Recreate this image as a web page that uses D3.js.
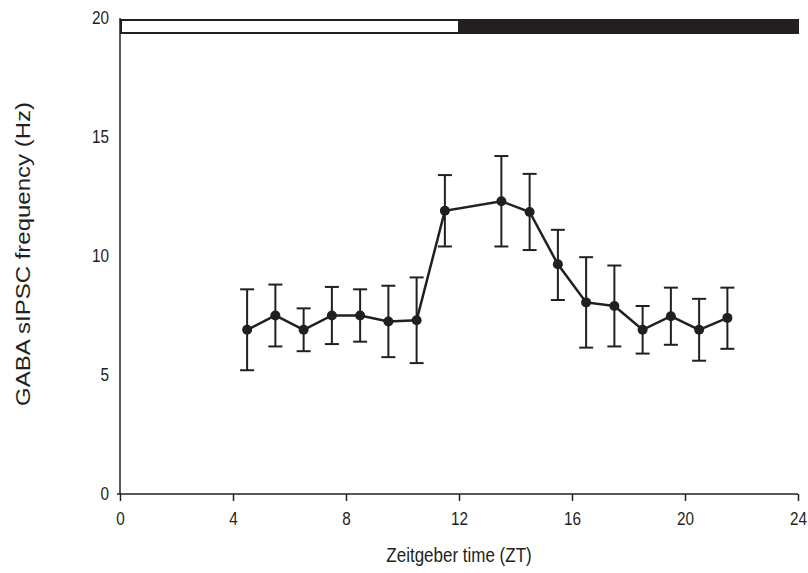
<!DOCTYPE html>
<html>
<head>
<meta charset="utf-8">
<script src="https://cdn.jsdelivr.net/npm/d3@7"></script>
<style>
  body { margin: 0; background: #fff; }
  text { font-family: "Liberation Sans", Arial, sans-serif; fill: #231f20; }
</style>
</head>
<body>
<svg class="chart"></svg>
<script>

// ZT of each recording bin
let zt = [4.5, 5.5, 6.5, 7.5, 8.5, 9.5, 10.5, 11.5, 13.5, 14.5, 15.5, 16.5, 17.5, 18.5, 19.5, 20.5, 21.5]
// mean frequency (Hz)
let freq = [6.9, 7.5, 6.9, 7.5, 7.5, 7.25, 7.3, 11.9, 12.3, 11.85, 9.65, 8.05, 7.9, 6.9, 7.47, 6.9, 7.4]
// error bar ends
let errHi = [8.6, 8.8, 7.8, 8.7, 8.6, 8.75, 9.1, 13.4, 14.2, 13.45, 11.1, 9.95, 9.6, 7.9, 8.67, 8.2, 8.67]
let errLo = [5.2, 6.2, 6.0, 6.3, 6.4, 5.75, 5.5, 10.4, 10.4, 10.25, 8.15, 6.15, 6.2, 5.9, 6.27, 5.6, 6.1]

let xTicks = [0, 4, 8, 12, 16, 20, 24]
let yTicks = [0, 5, 10, 15, 20]
// light / dark phases
let phases = [{ from: 0, to: 12, fill: "#fff" }, { from: 12, to: 24, fill: "#231f20" }]

let ink = "#231f20"

let svg = d3.select(".chart")
    .attr("width", 808)
    .attr("height", 573)

let x = d3.scaleLinear().domain([0, 24]).range([120, 798])
let y = d3.scaleLinear().domain([0, 20]).range([494, 18])

let data = zt.map(function(t, i) {
  return { t: t, v: freq[i], hi: errHi[i], lo: errLo[i] }
})

// day/night bar
svg.selectAll("rect.phase")
  .data(phases)
  .enter().append("rect")
    .attr("class", "phase")
    .attr("x", function(d) { return x(d.from) + 1 })
    .attr("width", function(d) { return x(d.to) - x(d.from) - 1 })
    .attr("y", y(20) + 2)
    .attr("height", 13)
    .attr("fill", function(d) { return d.fill })
    .attr("stroke", ink)
    .attr("stroke-width", 2)

// x axis
let xAxis = svg.append("g")
    .attr("transform", "translate(0," + y(0) + ")")
    .call(d3.axisBottom(x).tickValues(xTicks).tickSize(7).tickSizeOuter(0).tickPadding(11))
xAxis.select(".domain").attr("d", "M" + (x(0) - 3) + ",0H" + x(24)).attr("stroke", ink).attr("stroke-width", 1.5)
xAxis.selectAll(".tick line").attr("stroke", ink).attr("stroke-width", 1.5)
xAxis.selectAll(".tick text")
    .attr("font-size", 18).attr("font-family", null).style("fill", ink)
    .attr("transform", "scale(0.85,1)")

// y axis (no tick marks)
let yAxis = svg.append("g")
    .attr("transform", "translate(" + x(0) + ",0)")
    .call(d3.axisLeft(y).tickValues(yTicks).tickSize(0).tickPadding(13))
yAxis.select(".domain").attr("d", "M0," + y(20) + "V" + y(0)).attr("stroke", ink).attr("stroke-width", 1.5)
yAxis.selectAll(".tick text")
    .attr("font-size", 18).attr("font-family", null).style("fill", ink)
    .attr("transform", "scale(0.85,1)")

// error bars
let eb = svg.append("g").attr("stroke", ink).attr("stroke-width", 2)
eb.selectAll("line.v")
  .data(data)
  .enter().append("line")
    .attr("x1", function(d) { return x(d.t) })
    .attr("x2", function(d) { return x(d.t) })
    .attr("y1", function(d) { return y(d.hi) })
    .attr("y2", function(d) { return y(d.lo) })
eb.selectAll("line.cap-hi")
  .data(data)
  .enter().append("line")
    .attr("x1", function(d) { return x(d.t) - 7 })
    .attr("x2", function(d) { return x(d.t) + 7 })
    .attr("y1", function(d) { return y(d.hi) })
    .attr("y2", function(d) { return y(d.hi) })
eb.selectAll("line.cap-lo")
  .data(data)
  .enter().append("line")
    .attr("x1", function(d) { return x(d.t) - 7 })
    .attr("x2", function(d) { return x(d.t) + 7 })
    .attr("y1", function(d) { return y(d.lo) })
    .attr("y2", function(d) { return y(d.lo) })

let line = d3.line()
  .x(function(d) { return x(d.t) })
  .y(function(d) { return y(d.v) })

svg.append("path")
    .datum(data)
    .attr("d", line)
    .attr("fill", "none")
    .attr("stroke", ink)
    .attr("stroke-width", 2.5)

svg.selectAll("circle")
  .data(data)
  .enter().append("circle")
    .attr("cx", function(d) { return x(d.t) })
    .attr("cy", function(d) { return y(d.v) })
    .attr("r", 5)
    .attr("fill", ink)

// axis titles, glyphs a bit narrow like the original
svg.append("text")
    .attr("transform", "translate(459,562) scale(0.85,1)")
    .attr("text-anchor", "middle")
    .attr("font-size", 20)
    .text("Zeitgeber time (ZT)")

svg.append("text")
    .attr("transform", "translate(30,254) rotate(-90) scale(1,0.85)")
    .attr("text-anchor", "middle")
    .attr("font-size", 24)
    .text("GABA sIPSC frequency (Hz)")

</script>
</body>
</html>
